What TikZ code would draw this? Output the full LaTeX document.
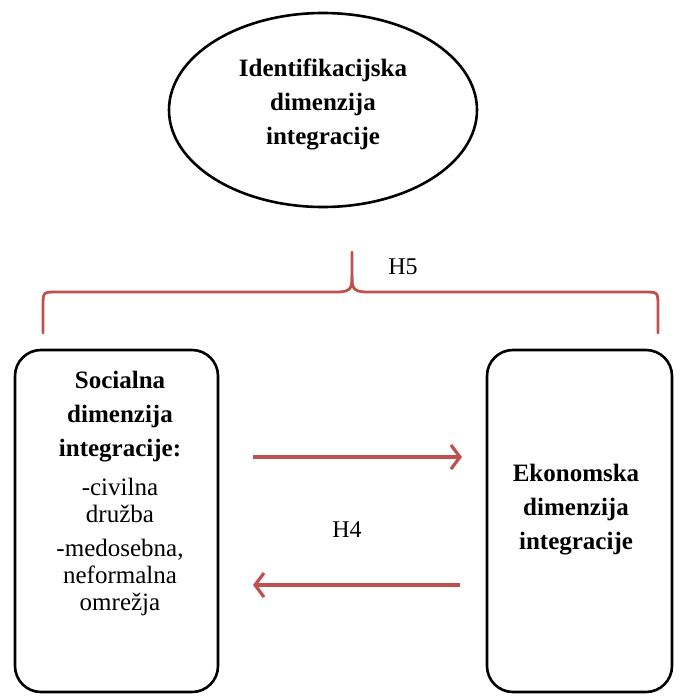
\documentclass[tikz,border=0pt]{standalone}
\usepackage{fontspec}
\setmainfont{Liberation Serif}
\usepackage{tikz}
\usetikzlibrary{shapes.geometric}
\usetikzlibrary{arrows.meta}
\definecolor{hred}{RGB}{192,80,77}
\tikzset{dimbox/.style = {shape=rectangle, draw, line width=2.6pt,
rounded corners=26pt, inner sep=0pt, align=center},
dimoval/.style = {shape=ellipse, draw, line width=2.6pt, inner sep=0pt,
minimum width=308pt, minimum height=194pt},
hyparrow/.style = {draw=hred, line width=3.2pt, -{Straight Barb[length=9pt,width=24pt]}},
hbrace/.style = {draw=hred, line width=2.8pt, line cap=round},
title/.style = {font=\fontsize{25}{34}\selectfont\bfseries, align=center},
plain/.style = {font=\fontsize{25}{27}\selectfont, align=center}}

\begin{document}
\begin{tikzpicture}[x=1pt,y=-1pt]
                \useasboundingbox (0,0) rectangle (680,697);

                \node[dimoval] (I) at (323,110) {};
                \node[title] (It) at (323,104) {Identifikacijska\\dimenzija\\integracije};

                \node[dimbox, minimum width=203pt, minimum height=342pt] (S) at (116.5,521) {};
                \node[title] (St) at (120,417) {Socialna\\dimenzija\\integracije:};
                \node[plain] (Sc) at (120,500) {-civilna\\družba};
                \node[plain] (Sm) at (120,577) {-medosebna,\\neformalna\\omrežja};

                \node[dimbox, minimum width=185pt, minimum height=342pt] (E) at (579.5,521) {};
                \node[title] (Et) at (576,510) {Ekonomska\\dimenzija\\integracije};

                \coordinate (a1) at (253,457);
                \coordinate (a2) at (462,457);
                \coordinate (b1) at (460,585);
                \coordinate (b2) at (253,585);
                \draw[hyparrow] (a1) to (a2);
                \draw[hyparrow] (b1) to (b2);
                \node[font=\fontsize{24}{25}\selectfont] (H4) at (347,530) {H4};

                \coordinate (bl) at (43,333);
                \coordinate (br) at (658,333);
                \coordinate (bt) at (352,252);
                \draw[hbrace] (bl) -- (43,306) .. controls (43,292) .. (57,292)
                    -- (338,292) .. controls (352,292) and (352,286) .. (352,276) -- (bt);
                \draw[hbrace] (br) -- (658,306) .. controls (658,292) .. (644,292)
                    -- (366,292) .. controls (352,292) and (352,286) .. (352,276);
                \node[font=\fontsize{24}{25}\selectfont] (H5) at (403,267) {H5};
            \end{tikzpicture}
\end{document}
